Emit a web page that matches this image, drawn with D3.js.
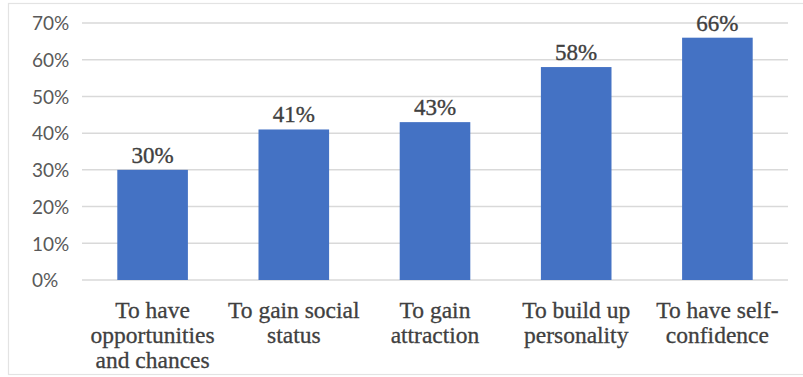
<!DOCTYPE html>
<html>
<head>
<meta charset="utf-8">
<script src="https://cdn.jsdelivr.net/npm/d3@7"></script>
<style>
  html, body { margin: 0; padding: 0; background: #fff; }
  svg { display: block; }
</style>
</head>
<body>
<svg id="chart" width="803" height="377"></svg>
<script>
// Reasons, with the share of respondents giving each one
const categories = [
  ["To have", "opportunities", "and chances"],
  ["To gain social", "status"],
  ["To gain", "attraction"],
  ["To build up", "personality"],
  ["To have self-", "confidence"]
];
const values = [0.30, 0.41, 0.43, 0.58, 0.66];
const yTicks = [0, 0.1, 0.2, 0.3, 0.4, 0.5, 0.6, 0.7];

const svg = d3.select("#chart");
const plot = { left: 82, right: 788, top: 23, bottom: 280 };
const serif = "'Liberation Serif', 'Times New Roman', serif";
const pct = d3.format(".0%");

// outer chart frame
svg.append("rect")
  .attr("x", 8.5).attr("y", 3.5)
  .attr("width", 820).attr("height", 371)
  .attr("fill", "none").attr("stroke", "#e3e3e3").attr("stroke-width", 1.2);

const x = d3.scaleBand()
  .domain(d3.range(categories.length))
  .range([plot.left, plot.right])
  .paddingInner(0.5).paddingOuter(0.25);

const y = d3.scaleLinear()
  .domain([0, 0.7])
  .range([plot.bottom, plot.top]);

// gridlines
svg.append("g")
  .selectAll("line")
  .data(yTicks)
  .join("line")
  .attr("x1", plot.left).attr("x2", plot.right)
  .attr("y1", d => y(d)).attr("y2", d => y(d))
  .attr("stroke", "#d9d9d9").attr("stroke-width", 1.5);

// y axis labels (left-aligned)
const yAxis = d3.axisLeft(y).tickValues(yTicks).tickFormat(pct).tickSize(0).tickPadding(0);
const ya = svg.append("g").attr("transform", `translate(${plot.left},0)`).call(yAxis);
ya.select(".domain").remove();
ya.selectAll("text")
  .attr("x", 32 - plot.left)
  .attr("dy", "0.36em")
  .attr("text-anchor", "start")
  .attr("fill", "#595959")
  .style("font-family", "Lato, 'Open Sans', sans-serif")
  .style("font-size", "19px");

// bars
svg.append("g")
  .selectAll("rect")
  .data(values)
  .join("rect")
  .attr("x", (d, i) => x(i))
  .attr("width", x.bandwidth())
  .attr("y", d => y(d))
  .attr("height", d => y(0) - y(d))
  .attr("fill", "#4472c4");

// value labels
svg.append("g")
  .selectAll("text")
  .data(values)
  .join("text")
  .attr("x", (d, i) => x(i) + x.bandwidth() / 2)
  .attr("y", d => y(d) - 7)
  .attr("text-anchor", "middle")
  .attr("fill", "#404040")
  .attr("stroke", "#404040").attr("stroke-width", 0.35)
  .style("font-family", serif)
  .style("font-size", "23px")
  .text(d => pct(d));

// category labels
const cat = svg.append("g")
  .selectAll("text")
  .data(categories)
  .join("text")
  .attr("x", (d, i) => x(i) + x.bandwidth() / 2)
  .attr("y", 318)
  .attr("text-anchor", "middle")
  .attr("fill", "#404040")
  .attr("stroke", "#404040").attr("stroke-width", 0.3)
  .style("font-family", serif)
  .style("font-size", "23.5px");
cat.selectAll("tspan")
  .data(d => d)
  .join("tspan")
  .attr("x", function () { return this.parentNode.getAttribute("x"); })
  .attr("dy", (d, i) => i === 0 ? 0 : 25)
  .text(d => d);
</script>
</body>
</html>
